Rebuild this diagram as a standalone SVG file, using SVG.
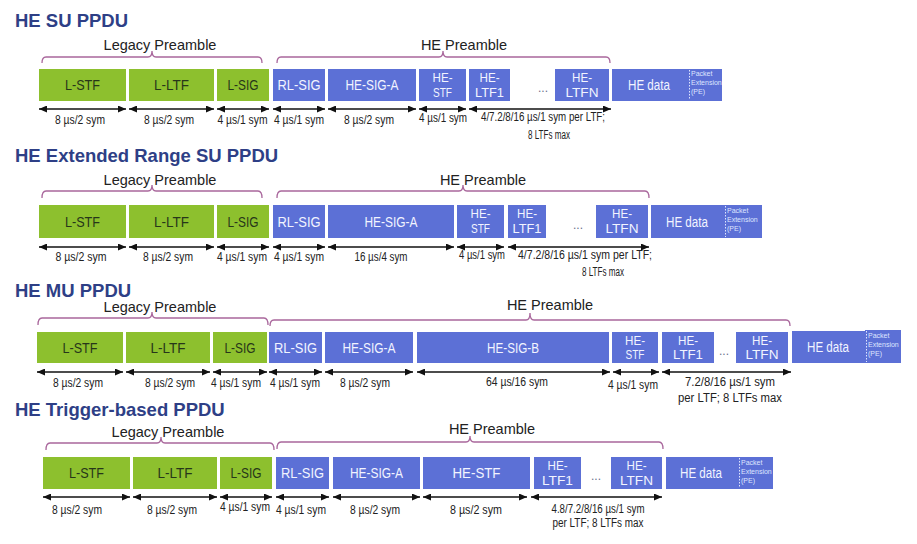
<svg xmlns="http://www.w3.org/2000/svg" width="917" height="544" viewBox="0 0 917 544">
<defs>
<marker id="ah" viewBox="0 0 8 7" refX="8" refY="3.5" markerWidth="8" markerHeight="7" markerUnits="userSpaceOnUse" orient="auto-start-reverse"><path d="M0,0 L8,3.5 L0,7 z" fill="#111"/></marker>
<style>
.title{font-family:"Liberation Sans",Arial,sans-serif;font-weight:bold;font-size:18.5px;fill:#2e3f86}
.grp{font-family:"Liberation Sans",Arial,sans-serif;font-size:14.5px;fill:#222;text-anchor:middle}
.g{fill:#8dc02e}
.b{fill:#5c70d6}
.tg{font-family:"Liberation Sans",Arial,sans-serif;font-size:14px;fill:#27361a;text-anchor:middle}
.tb{font-family:"Liberation Sans",Arial,sans-serif;font-size:14px;fill:#f2f4ff;text-anchor:middle}
.t2{font-family:"Liberation Sans",Arial,sans-serif;font-size:13px;fill:#f2f4ff;text-anchor:middle}
.pe{font-family:"Liberation Sans",Arial,sans-serif;font-size:7px;fill:#dfe5ff}
.ped{stroke:#dfe5ff;stroke-width:1;stroke-dasharray:1.5,1.5;fill:none}
.dots{font-family:"Liberation Sans",Arial,sans-serif;font-size:12px;fill:#6a6f8c;text-anchor:middle}
.lbl{font-family:"Liberation Sans",Arial,sans-serif;font-size:12.5px;fill:#222;text-anchor:middle}
.lbs{font-family:"Liberation Sans",Arial,sans-serif;font-size:12px;fill:#222;text-anchor:middle}
.arr{stroke:#111;stroke-width:1.3;fill:none;marker-start:url(#ah);marker-end:url(#ah)}
.brace{stroke:#a9679c;stroke-width:1.3;fill:none}
</style>
</defs>
<rect width="917" height="544" fill="#fff"/>

<!-- Titles -->
<text class="title" x="15" y="27">HE SU PPDU</text>
<text class="title" x="15" y="162">HE Extended Range SU PPDU</text>
<text class="title" x="15" y="297">HE MU PPDU</text>
<text class="title" x="15" y="416">HE Trigger-based PPDU</text>

<!-- Group labels -->
<text class="grp" x="160" y="50">Legacy Preamble</text>
<text class="grp" x="464" y="50">HE Preamble</text>
<text class="grp" x="160" y="185">Legacy Preamble</text>
<text class="grp" x="483" y="185">HE Preamble</text>
<text class="grp" x="160" y="312">Legacy Preamble</text>
<text class="grp" x="550" y="310">HE Preamble</text>
<text class="grp" x="168" y="437">Legacy Preamble</text>
<text class="grp" x="492" y="434">HE Preamble</text>

<g id="braces">
<path class="brace" d="M42,63 Q42,57 46,57 L148,57 Q152,57 152,51 Q152,57 156,57 L258,57 Q262,57 262,63"/>
<path class="brace" d="M277,63 Q277,57 281,57 L439,57 Q443,57 443,51 Q443,57 447,57 L606,57 Q610,57 610,63"/>
<path class="brace" d="M42,198 Q42,191 46,191 L148,191 Q152,191 152,185 Q152,191 156,191 L258,191 Q262,191 262,198"/>
<path class="brace" d="M277,198 Q277,191 281,191 L459,191 Q463,191 463,185 Q463,191 467,191 L645,191 Q649,191 649,198"/>
<path class="brace" d="M38,325 Q38,318 42,318 L148,318 Q152,318 152,312 Q152,318 156,318 L264,318 Q268,318 268,325"/>
<path class="brace" d="M270,326 Q270,320 274,320 L526,320 Q530,320 530,313 Q530,320 534,320 L786,320 Q790,320 790,326"/>
<path class="brace" d="M46,450 Q46,443 50,443 L157,443 Q161,443 161,437 Q161,443 165,443 L270,443 Q274,443 274,450"/>
<path class="brace" d="M277,449 Q277,442 281,442 L466,442 Q470,442 470,436 Q470,442 474,442 L659,442 Q663,442 663,449"/>
</g>

<!-- ===== Row 1: HE SU PPDU ===== -->
<g id="su-lstf"><rect class="g" x="39" y="69" width="87" height="32"/><text class="tg" x="82.5" y="90" textLength="35" lengthAdjust="spacingAndGlyphs">L-STF</text></g>
<g id="su-lltf"><rect class="g" x="129" y="69" width="85" height="32"/><text class="tg" x="171.5" y="90" textLength="35" lengthAdjust="spacingAndGlyphs">L-LTF</text></g>
<g id="su-lsig"><rect class="g" x="217" y="69" width="52" height="32"/><text class="tg" x="243" y="90" textLength="31" lengthAdjust="spacingAndGlyphs">L-SIG</text></g>
<g id="su-rlsig"><rect class="b" x="273" y="69" width="52" height="32"/><text class="tb" x="299" y="90" textLength="43" lengthAdjust="spacingAndGlyphs">RL-SIG</text></g>
<g id="su-hesiga"><rect class="b" x="328" y="69" width="88" height="32"/><text class="tb" x="372" y="90" textLength="53" lengthAdjust="spacingAndGlyphs">HE-SIG-A</text></g>
<g id="su-hestf"><rect class="b" x="419" y="69" width="47" height="32"/><text class="t2" x="442.5" y="82" textLength="20" lengthAdjust="spacingAndGlyphs">HE-</text><text class="t2" x="442.5" y="97" textLength="19" lengthAdjust="spacingAndGlyphs">STF</text></g>
<g id="su-heltf1"><rect class="b" x="469" y="69" width="41" height="32"/><text class="t2" x="489.5" y="82" textLength="20" lengthAdjust="spacingAndGlyphs">HE-</text><text class="t2" x="489.5" y="97" textLength="29" lengthAdjust="spacingAndGlyphs">LTF1</text></g>
<text class="dots" x="543" y="92">...</text>
<g id="su-heltfn"><rect class="b" x="555" y="69" width="54" height="32"/><text class="t2" x="582" y="82" textLength="20" lengthAdjust="spacingAndGlyphs">HE-</text><text class="t2" x="582" y="97" textLength="33" lengthAdjust="spacingAndGlyphs">LTFN</text></g>
<g id="su-hedata"><rect class="b" x="612" y="69" width="76" height="32"/><text class="tb" x="649" y="90" textLength="42" lengthAdjust="spacingAndGlyphs">HE data</text></g>
<g id="su-pe"><rect class="b" x="688" y="69" width="34" height="32"/><line class="ped" x1="689.5" y1="70" x2="689.5" y2="100"/><text class="pe" x="691" y="76">Packet</text><text class="pe" x="691" y="85">Extension</text><text class="pe" x="691" y="94">(PE)</text></g>

<!-- ===== Row 2: HE Extended Range SU PPDU ===== -->
<g id="er-lstf"><rect class="g" x="39" y="205" width="87" height="33"/><text class="tg" x="82.5" y="226.5" textLength="35" lengthAdjust="spacingAndGlyphs">L-STF</text></g>
<g id="er-lltf"><rect class="g" x="129" y="205" width="85" height="33"/><text class="tg" x="171.5" y="226.5" textLength="35" lengthAdjust="spacingAndGlyphs">L-LTF</text></g>
<g id="er-lsig"><rect class="g" x="217" y="205" width="52" height="33"/><text class="tg" x="243" y="226.5" textLength="31" lengthAdjust="spacingAndGlyphs">L-SIG</text></g>
<g id="er-rlsig"><rect class="b" x="273" y="205" width="52" height="33"/><text class="tb" x="299" y="226.5" textLength="43" lengthAdjust="spacingAndGlyphs">RL-SIG</text></g>
<g id="er-hesiga"><rect class="b" x="328" y="205" width="126" height="33"/><text class="tb" x="391" y="226.5" textLength="53" lengthAdjust="spacingAndGlyphs">HE-SIG-A</text></g>
<g id="er-hestf"><rect class="b" x="457" y="205" width="47" height="33"/><text class="t2" x="480.5" y="218" textLength="20" lengthAdjust="spacingAndGlyphs">HE-</text><text class="t2" x="480.5" y="233" textLength="19" lengthAdjust="spacingAndGlyphs">STF</text></g>
<g id="er-heltf1"><rect class="b" x="508" y="205" width="38" height="33"/><text class="t2" x="527" y="218" textLength="20" lengthAdjust="spacingAndGlyphs">HE-</text><text class="t2" x="527" y="233" textLength="29" lengthAdjust="spacingAndGlyphs">LTF1</text></g>
<text class="dots" x="578" y="229">...</text>
<g id="er-heltfn"><rect class="b" x="596" y="205" width="52" height="33"/><text class="t2" x="622" y="218" textLength="20" lengthAdjust="spacingAndGlyphs">HE-</text><text class="t2" x="622" y="233" textLength="33" lengthAdjust="spacingAndGlyphs">LTFN</text></g>
<g id="er-hedata"><rect class="b" x="651" y="205" width="73" height="33"/><text class="tb" x="687" y="226.5" textLength="42" lengthAdjust="spacingAndGlyphs">HE data</text></g>
<g id="er-pe"><rect class="b" x="724" y="205" width="38" height="33"/><line class="ped" x1="725.5" y1="206" x2="725.5" y2="237"/><text class="pe" x="727" y="213">Packet</text><text class="pe" x="727" y="222">Extension</text><text class="pe" x="727" y="231">(PE)</text></g>

<!-- ===== Row 3: HE MU PPDU ===== -->
<g id="mu-lstf"><rect class="g" x="37" y="332" width="86" height="31"/><text class="tg" x="80" y="352.5" textLength="35" lengthAdjust="spacingAndGlyphs">L-STF</text></g>
<g id="mu-lltf"><rect class="g" x="126" y="332" width="84" height="31"/><text class="tg" x="168" y="352.5" textLength="35" lengthAdjust="spacingAndGlyphs">L-LTF</text></g>
<g id="mu-lsig"><rect class="g" x="213" y="332" width="54" height="31"/><text class="tg" x="240" y="352.5" textLength="31" lengthAdjust="spacingAndGlyphs">L-SIG</text></g>
<g id="mu-rlsig"><rect class="b" x="269" y="332" width="53" height="31"/><text class="tb" x="295.5" y="352.5" textLength="43" lengthAdjust="spacingAndGlyphs">RL-SIG</text></g>
<g id="mu-hesiga"><rect class="b" x="325" y="332" width="88" height="31"/><text class="tb" x="369" y="352.5" textLength="53" lengthAdjust="spacingAndGlyphs">HE-SIG-A</text></g>
<g id="mu-hesigb"><rect class="b" x="417" y="332" width="192" height="31"/><text class="tb" x="513" y="352.5" textLength="52" lengthAdjust="spacingAndGlyphs">HE-SIG-B</text></g>
<g id="mu-hestf"><rect class="b" x="612" y="332" width="46" height="31"/><text class="t2" x="635" y="344.5" textLength="20" lengthAdjust="spacingAndGlyphs">HE-</text><text class="t2" x="635" y="359" textLength="19" lengthAdjust="spacingAndGlyphs">STF</text></g>
<g id="mu-heltf1"><rect class="b" x="662" y="332" width="52" height="31"/><text class="t2" x="688" y="344.5" textLength="20" lengthAdjust="spacingAndGlyphs">HE-</text><text class="t2" x="688" y="359" textLength="30" lengthAdjust="spacingAndGlyphs">LTF1</text></g>
<text class="dots" x="724" y="355">...</text>
<g id="mu-heltfn"><rect class="b" x="736" y="332" width="52" height="31"/><text class="t2" x="762" y="344.5" textLength="20" lengthAdjust="spacingAndGlyphs">HE-</text><text class="t2" x="762" y="359" textLength="33" lengthAdjust="spacingAndGlyphs">LTFN</text></g>
<g id="mu-hedata"><rect class="b" x="792" y="331" width="73" height="32"/><text class="tb" x="828" y="352" textLength="42" lengthAdjust="spacingAndGlyphs">HE data</text></g>
<g id="mu-pe"><rect class="b" x="865" y="330" width="36" height="33"/><line class="ped" x1="866.5" y1="331" x2="866.5" y2="362"/><text class="pe" x="868" y="338">Packet</text><text class="pe" x="868" y="347">Extension</text><text class="pe" x="868" y="356">(PE)</text></g>

<!-- ===== Row 4: HE Trigger-based PPDU ===== -->
<g id="tb-lstf"><rect class="g" x="43" y="457" width="87" height="32"/><text class="tg" x="86.5" y="478" textLength="35" lengthAdjust="spacingAndGlyphs">L-STF</text></g>
<g id="tb-lltf"><rect class="g" x="133" y="457" width="84" height="32"/><text class="tg" x="175" y="478" textLength="35" lengthAdjust="spacingAndGlyphs">L-LTF</text></g>
<g id="tb-lsig"><rect class="g" x="220" y="457" width="52" height="32"/><text class="tg" x="246" y="478" textLength="31" lengthAdjust="spacingAndGlyphs">L-SIG</text></g>
<g id="tb-rlsig"><rect class="b" x="276" y="457" width="53" height="32"/><text class="tb" x="302.5" y="478" textLength="43" lengthAdjust="spacingAndGlyphs">RL-SIG</text></g>
<g id="tb-hesiga"><rect class="b" x="333" y="457" width="87" height="32"/><text class="tb" x="376.5" y="478" textLength="53" lengthAdjust="spacingAndGlyphs">HE-SIG-A</text></g>
<g id="tb-hestf"><rect class="b" x="423" y="457" width="107" height="32"/><text class="tb" x="476.5" y="478" textLength="48" lengthAdjust="spacingAndGlyphs">HE-STF</text></g>
<g id="tb-heltf1"><rect class="b" x="534" y="457" width="47" height="32"/><text class="t2" x="557.5" y="470" textLength="20" lengthAdjust="spacingAndGlyphs">HE-</text><text class="t2" x="557.5" y="485" textLength="31" lengthAdjust="spacingAndGlyphs">LTF1</text></g>
<text class="dots" x="596" y="480">...</text>
<g id="tb-heltfn"><rect class="b" x="611" y="457" width="51" height="32"/><text class="t2" x="636.5" y="470" textLength="20" lengthAdjust="spacingAndGlyphs">HE-</text><text class="t2" x="636.5" y="485" textLength="33" lengthAdjust="spacingAndGlyphs">LTFN</text></g>
<g id="tb-hedata"><rect class="b" x="666" y="457" width="72" height="32"/><text class="tb" x="701" y="478" textLength="42" lengthAdjust="spacingAndGlyphs">HE data</text></g>
<g id="tb-pe"><rect class="b" x="738" y="457" width="35" height="32"/><line class="ped" x1="739.5" y1="458" x2="739.5" y2="488"/><text class="pe" x="741" y="465">Packet</text><text class="pe" x="741" y="474">Extension</text><text class="pe" x="741" y="483">(PE)</text></g>

<!-- Duration arrows -->
<g id="connectors">
<line class="arr" x1="39" y1="109" x2="126" y2="109"/>
<line class="arr" x1="129" y1="109" x2="214" y2="109"/>
<line class="arr" x1="217" y1="109" x2="269" y2="109"/>
<line class="arr" x1="273" y1="109" x2="325" y2="109"/>
<line class="arr" x1="328" y1="109" x2="416" y2="109"/>
<line class="arr" x1="419" y1="109" x2="466" y2="109"/>
<line class="arr" x1="469" y1="109" x2="611" y2="109"/>

<line class="arr" x1="39" y1="247" x2="126" y2="247"/>
<line class="arr" x1="129" y1="247" x2="214" y2="247"/>
<line class="arr" x1="217" y1="247" x2="269" y2="247"/>
<line class="arr" x1="273" y1="247" x2="325" y2="247"/>
<line class="arr" x1="328" y1="247" x2="454" y2="247"/>
<line class="arr" x1="457" y1="247" x2="504" y2="247"/>
<line class="arr" x1="508" y1="247" x2="649" y2="247"/>

<line class="arr" x1="37" y1="372" x2="123" y2="372"/>
<line class="arr" x1="126" y1="372" x2="210" y2="372"/>
<line class="arr" x1="213" y1="372" x2="267" y2="372"/>
<line class="arr" x1="269" y1="372" x2="322" y2="372"/>
<line class="arr" x1="325" y1="372" x2="413" y2="372"/>
<line class="arr" x1="417" y1="372" x2="610" y2="372"/>
<line class="arr" x1="613" y1="372" x2="659" y2="372"/>
<line class="arr" x1="662" y1="372" x2="791" y2="372"/>

<line class="arr" x1="43" y1="497" x2="130" y2="497"/>
<line class="arr" x1="133" y1="497" x2="217" y2="497"/>
<line class="arr" x1="220" y1="497" x2="272" y2="497"/>
<line class="arr" x1="276" y1="497" x2="329" y2="497"/>
<line class="arr" x1="333" y1="497" x2="420" y2="497"/>
<line class="arr" x1="423" y1="497" x2="527" y2="497"/>
<line class="arr" x1="531" y1="497" x2="662" y2="497"/>
</g>

<!-- Duration labels -->
<g id="labels">
<text class="lbl" x="80" y="124" textLength="50" lengthAdjust="spacingAndGlyphs">8 µs/2 sym</text>
<text class="lbl" x="169" y="124" textLength="50" lengthAdjust="spacingAndGlyphs">8 µs/2 sym</text>
<text class="lbl" x="242.5" y="124" textLength="50" lengthAdjust="spacingAndGlyphs">4 µs/1 sym</text>
<text class="lbl" x="299" y="124" textLength="50" lengthAdjust="spacingAndGlyphs">4 µs/1 sym</text>
<text class="lbl" x="369" y="124" textLength="50" lengthAdjust="spacingAndGlyphs">8 µs/2 sym</text>
<text class="lbl" x="443" y="122" textLength="48" lengthAdjust="spacingAndGlyphs">4 µs/1 sym</text>
<text class="lbl" x="543" y="121" textLength="124" lengthAdjust="spacingAndGlyphs">4/7.2/8/16  µs/1 sym per LTF;</text>
<text class="lbl" x="549" y="139" textLength="42" lengthAdjust="spacingAndGlyphs">8 LTFs max</text>

<text class="lbl" x="81" y="261" textLength="51" lengthAdjust="spacingAndGlyphs">8 µs/2 sym</text>
<text class="lbl" x="168" y="261" textLength="50" lengthAdjust="spacingAndGlyphs">8 µs/2 sym</text>
<text class="lbl" x="242" y="261" textLength="50" lengthAdjust="spacingAndGlyphs">4 µs/1 sym</text>
<text class="lbl" x="299" y="261" textLength="50" lengthAdjust="spacingAndGlyphs">4 µs/1 sym</text>
<text class="lbl" x="381" y="261" textLength="53" lengthAdjust="spacingAndGlyphs">16 µs/4 sym</text>
<text class="lbl" x="482" y="259" textLength="46" lengthAdjust="spacingAndGlyphs">4 µs/1 sym</text>
<text class="lbl" x="585" y="259" textLength="134" lengthAdjust="spacingAndGlyphs">4/7.2/8/16  µs/1 sym per LTF;</text>
<text class="lbl" x="603" y="276" textLength="42" lengthAdjust="spacingAndGlyphs">8 LTFs max</text>

<text class="lbl" x="78" y="387" textLength="50" lengthAdjust="spacingAndGlyphs">8 µs/2 sym</text>
<text class="lbl" x="170" y="387" textLength="50" lengthAdjust="spacingAndGlyphs">8 µs/2 sym</text>
<text class="lbl" x="236" y="387" textLength="50" lengthAdjust="spacingAndGlyphs">4 µs/1 sym</text>
<text class="lbl" x="295" y="387" textLength="50" lengthAdjust="spacingAndGlyphs">4 µs/1 sym</text>
<text class="lbl" x="365" y="387" textLength="50" lengthAdjust="spacingAndGlyphs">8 µs/2 sym</text>
<text class="lbl" x="517" y="386" textLength="62" lengthAdjust="spacingAndGlyphs">64 µs/16 sym</text>
<text class="lbl" x="633" y="389" textLength="50" lengthAdjust="spacingAndGlyphs">4 µs/1 sym</text>
<text class="lbl" x="730" y="386" textLength="90" lengthAdjust="spacingAndGlyphs">7.2/8/16 µs/1 sym</text>
<text class="lbl" x="730" y="402" textLength="104" lengthAdjust="spacingAndGlyphs">per LTF; 8 LTFs max</text>

<text class="lbl" x="77" y="514" textLength="50" lengthAdjust="spacingAndGlyphs">8 µs/2 sym</text>
<text class="lbl" x="172" y="514" textLength="50" lengthAdjust="spacingAndGlyphs">8 µs/2 sym</text>
<text class="lbl" x="245" y="511" textLength="50" lengthAdjust="spacingAndGlyphs">4 µs/1 sym</text>
<text class="lbl" x="301" y="514" textLength="50" lengthAdjust="spacingAndGlyphs">4 µs/1 sym</text>
<text class="lbl" x="375" y="514" textLength="50" lengthAdjust="spacingAndGlyphs">8 µs/2 sym</text>
<text class="lbl" x="476" y="514" textLength="52" lengthAdjust="spacingAndGlyphs">8 µs/2 sym</text>
<text class="lbs" x="598" y="513" textLength="93" lengthAdjust="spacingAndGlyphs">4.8/7.2/8/16 µs/1 sym</text>
<text class="lbs" x="598" y="527" textLength="91" lengthAdjust="spacingAndGlyphs">per LTF; 8 LTFs max</text>
</g>
</svg>
